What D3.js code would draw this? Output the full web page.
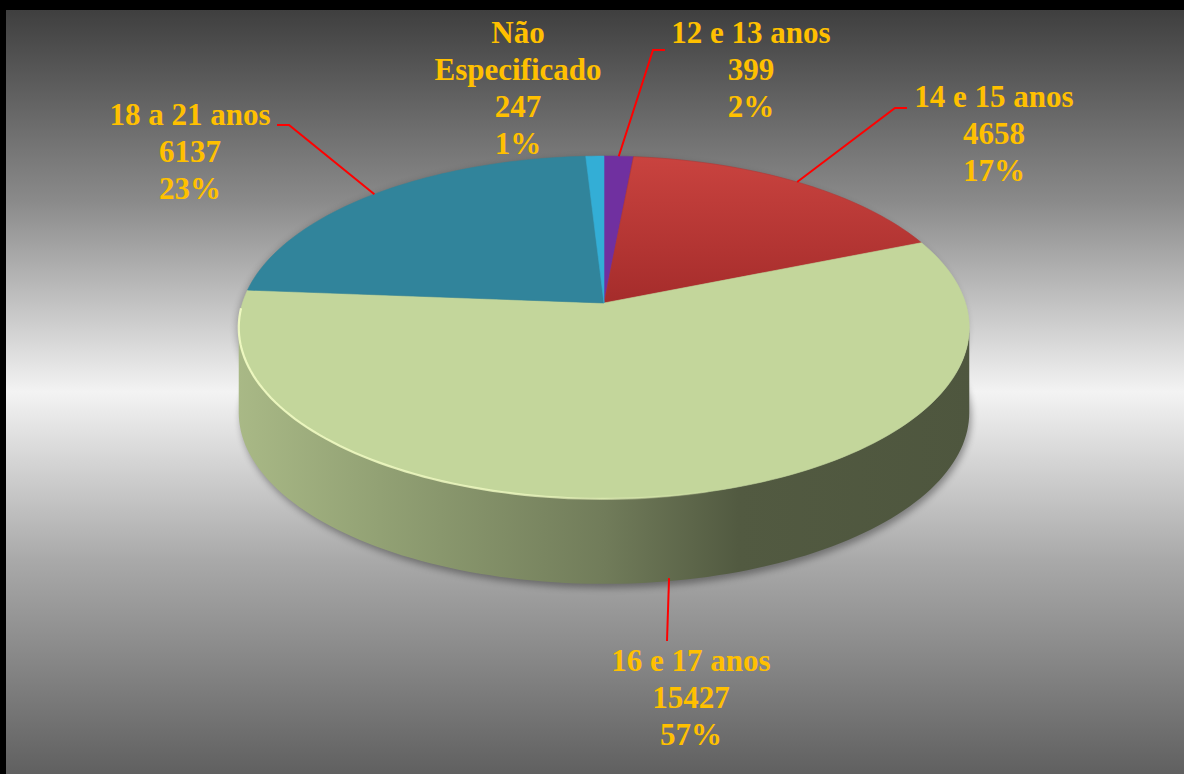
<!DOCTYPE html>
<html>
<head>
<meta charset="utf-8">
<script src="https://cdn.jsdelivr.net/npm/d3@7/dist/d3.min.js"></script>
<style>
  html, body { margin: 0; padding: 0; background: #000; }
  svg { display: block; }
</style>
</head>
<body>
<svg id="chart" width="1184" height="774"></svg>
<script>
// ---- data ----
const categories = ["12 e 13 anos", "14 e 15 anos", "16 e 17 anos", "18 a 21 anos", "Não Especificado"];
const values = [399, 4658, 15427, 6137, 247];
const percentLabels = ["2%", "17%", "57%", "23%", "1%"];
const sliceColors = ["#7030A0", "#C0403E", "#C3D69B", "#31849B", "#33AED6"];

// ---- label layout (centre x, first baseline y, leader elbow/end) ----
const labelLayout = [
  { x: 751, y: 43, wrap: false, leader: [[653, 50], [665, 50]] },
  { x: 994, y: 107, wrap: false, leader: [[895, 108], [907, 108]] },
  { x: 691, y: 671, wrap: false, leader: [[667, 641]] },
  { x: 190, y: 125, wrap: false, leader: [[289, 125], [277, 125]] },
  { x: 518, y: 43, wrap: true, leader: null }
];

const W = 1184, H = 774;
const svg = d3.select("#chart");
const defs = svg.append("defs");

// background: black frame with a vertical grey band gradient
const bg = defs.append("linearGradient").attr("id", "bg").attr("x1", 0).attr("y1", 0).attr("x2", 0).attr("y2", 1);
[[0, "#3f3f3f"], [0.25, "#8a8a8a"], [0.5, "#f3f3f3"], [0.72, "#a9a9a9"], [1, "#606060"]]
  .forEach(([o, c]) => bg.append("stop").attr("offset", o).attr("stop-color", c));
svg.append("rect").attr("width", W).attr("height", H).attr("fill", "#000");
svg.append("rect").attr("x", 6).attr("y", 10).attr("width", W - 6).attr("height", H - 10).attr("fill", "url(#bg)");

// ---- perspective projection of the unit disc's top face ----
const cx = 604, cy = 303;
const camH = 2.9, camD = 5.46;
const camLen = Math.hypot(camH, camD);
const sinP = camH / camLen, cosP = camD / camLen;
const Fx = 2235, Fy = 2213;
const wallPx = 85;   // on-screen height of the extruded wall

function project(theta) {
  const vx = Math.sin(theta), vy = -camH, vz = Math.cos(theta) + camD;
  const depth = -vy * sinP + vz * cosP;
  const yc = vy * cosP + vz * sinP;
  return [cx + Fx * vx / depth, cy - Fy * yc / depth];
}
function arcPoints(a0, a1, drop = 0) {
  const n = Math.max(2, Math.ceil((a1 - a0) / (Math.PI * 2) * 240));
  return d3.range(n + 1).map(i => {
    const [x, y] = project(a0 + (a1 - a0) * i / n);
    return [x, y + drop];
  });
}
const line = d3.line();

// angles of the silhouette's right and left extremes: the wall is visible between them
const sampleAngles = d3.range(0, 2001).map(i => i / 2000 * Math.PI * 2);
const wallStart = sampleAngles.filter(a => a <= Math.PI)[d3.maxIndex(sampleAngles.filter(a => a <= Math.PI), a => project(a)[0])];
const wallEnd = sampleAngles.filter(a => a >= Math.PI)[d3.minIndex(sampleAngles.filter(a => a >= Math.PI), a => project(a)[0])];

const pie = d3.pie().sort(null).value(d => d)(values);

// shadow under the disc
const sh = defs.append("filter").attr("id", "shadow").attr("x", "-10%").attr("y", "-10%").attr("width", "120%").attr("height", "130%");
sh.append("feGaussianBlur").attr("stdDeviation", 3.5);
const full = arcPoints(0, Math.PI * 2);
const fullBottom = arcPoints(0, Math.PI * 2, wallPx);
svg.append("path")
  .attr("d", line(fullBottom) + "Z")
  .attr("transform", "translate(2,4)")
  .attr("fill", "#000").attr("opacity", 0.35)
  .attr("filter", "url(#shadow)");
svg.append("path")
  .attr("d", line(full) + "Z")
  .attr("transform", "translate(-2,2)")
  .attr("fill", "#000").attr("opacity", 0.25)
  .attr("filter", "url(#shadow)");

// side walls: horizontal shading, light at left, dark at right
const xLeft = project(wallEnd)[0], xRight = project(wallStart)[0];
pie.forEach((p, i) => {
  const base = d3.rgb(sliceColors[i]);
  const g = defs.append("linearGradient").attr("id", "side" + i)
    .attr("gradientUnits", "userSpaceOnUse")
    .attr("x1", xLeft - 8).attr("x2", xRight + 8).attr("y1", 0).attr("y2", 0);
  [[0, 0.87], [0.2, 0.75], [0.5, 0.58], [0.68, 0.42], [1, 0.4]].forEach(([o, k]) => {
    g.append("stop").attr("offset", o)
      .attr("stop-color", d3.rgb(base.r * k, base.g * k, base.b * k).formatHex());
  });
});
const walls = pie
  .map((p, i) => ({ i, a0: Math.max(p.startAngle, wallStart), a1: Math.min(p.endAngle, wallEnd) }))
  .filter(w => w.a1 > w.a0);
svg.append("g").selectAll("path")
  .data(walls)
  .join("path")
  .attr("d", w => {
    const top = arcPoints(w.a0, w.a1);
    const bottom = arcPoints(w.a0, w.a1, wallPx).reverse();
    return line(top.concat(bottom)) + "Z";
  })
  .attr("fill", w => `url(#side${w.i})`);

// top surfaces
const topGrad = defs.append("linearGradient").attr("id", "topRed").attr("x1", 0).attr("y1", 0).attr("x2", 0).attr("y2", 1);
topGrad.append("stop").attr("offset", 0).attr("stop-color", "#C9433F");
topGrad.append("stop").attr("offset", 1).attr("stop-color", "#A52C2B");
svg.append("g").selectAll("path")
  .data(pie)
  .join("path")
  .attr("d", p => line([[cx, cy]].concat(arcPoints(p.startAngle, p.endAngle))) + "Z")
  .attr("fill", (p, i) => i === 1 ? "url(#topRed)" : sliceColors[i])
  .attr("stroke", (p, i) => i === 1 ? "#B43634" : sliceColors[i])
  .attr("stroke-width", 0.6);

// bevel highlight along the front-left rim of the top, fading toward the front
const glow = defs.append("filter").attr("id", "glow");
glow.append("feGaussianBlur").attr("stdDeviation", 0.7);
const hl = defs.append("linearGradient").attr("id", "rimLight")
  .attr("gradientUnits", "userSpaceOnUse")
  .attr("x1", xLeft).attr("x2", 740).attr("y1", 0).attr("y2", 0);
hl.append("stop").attr("offset", 0).attr("stop-color", "#F2FCC4").attr("stop-opacity", 0.9);
hl.append("stop").attr("offset", 0.55).attr("stop-color", "#F2FCC4").attr("stop-opacity", 0.75);
hl.append("stop").attr("offset", 1).attr("stop-color", "#F2FCC4").attr("stop-opacity", 0);
svg.append("path")
  .attr("d", line(arcPoints(Math.PI * 0.92, Math.PI * 1.49)))
  .attr("fill", "none")
  .attr("stroke", "url(#rimLight)")
  .attr("stroke-width", 2.2)
  .attr("filter", "url(#glow)");

// leader lines from slice rims to labels
const leaders = svg.append("g");
pie.forEach((p, i) => {
  const lay = labelLayout[i];
  if (!lay.leader) return;
  const mid = (p.startAngle + p.endAngle) / 2;
  const nearSide = Math.cos(mid) < 0;
  const start = arcPoints(mid, mid, nearSide ? wallPx - 3 : 0)[0];
  leaders.append("path")
    .attr("d", line([start].concat(lay.leader)))
    .attr("fill", "none")
    .attr("stroke", "#FF0000")
    .attr("stroke-width", 2);
});

// labels
const lineH = 37;
const labels = svg.append("g")
  .attr("font-family", "'Liberation Serif', 'Times New Roman', serif")
  .attr("font-weight", "bold")
  .attr("font-size", 31)
  .attr("fill", "#FFC000")
  .attr("text-anchor", "middle");
categories.forEach((name, i) => {
  const lay = labelLayout[i];
  const rows = (lay.wrap ? name.split(" ") : [name]).concat([String(values[i]), percentLabels[i]]);
  const t = labels.append("text").attr("x", lay.x).attr("y", lay.y);
  rows.forEach((r, k) => {
    t.append("tspan").attr("x", lay.x).attr("y", lay.y + k * lineH).text(r);
  });
});
</script>
</body>
</html>
